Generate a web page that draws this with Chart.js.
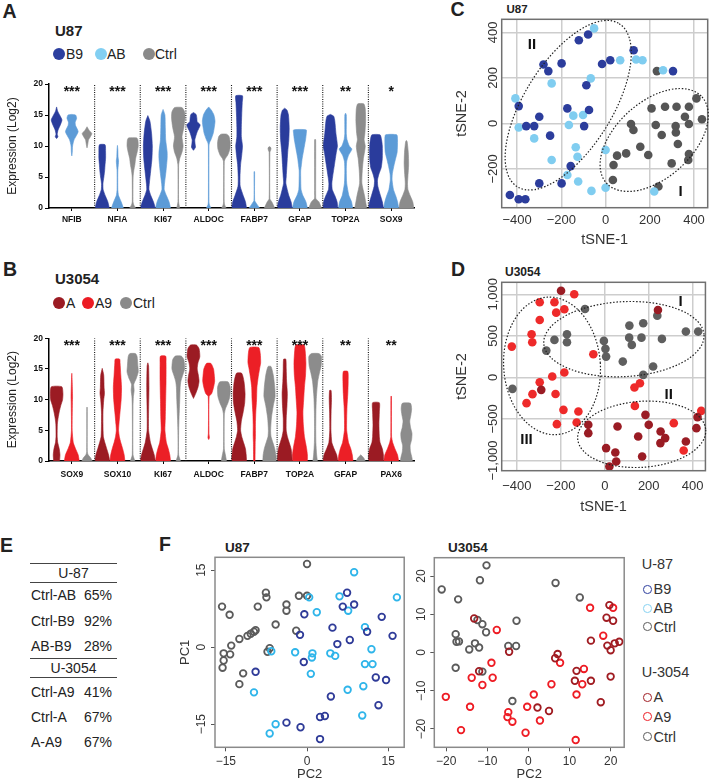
<!DOCTYPE html>
<html>
<head>
<meta charset="utf-8">
<title>Figure</title>
<script src="https://cdn.jsdelivr.net/npm/chart.js@4.4.1/dist/chart.umd.min.js"></script>
<style>
  body { margin: 0; width: 712px; height: 782px; position: relative; overflow: hidden; background: #fff;
         font-family: "Liberation Sans", Arial, sans-serif; color: #222; }
  canvas { position: absolute; }
  .t { position: absolute; white-space: nowrap; line-height: 1; }
  .rule { position: absolute; left: 30px; width: 87px; height: 0; border-top: 1.4px solid #444; }
</style>
</head>
<body>
<script>
// ---------- Panel A / B : violin profiles, [expression, width as fraction of slot] from bottom to top
const expressionTicks = [0, 5, 10, 15, 20];

const u87Genes = ['NFIB', 'NFIA', 'KI67', 'ALDOC', 'FABP7', 'GFAP', 'TOP2A', 'SOX9'];
const u87Stars = ['***', '***', '***', '***', '***', '***', '**', '*'];
const u87B9 = [
  [[11.2,0],[11.5,0.18],[11.9,0.08],[12.6,0.2],[13.4,0.5],[14.2,0.72],[14.9,0.45],[15.6,0.15],[16.3,0]],
  [[0,0.95],[1,0.75],[2,0.4],[3,0.12],[4,0.1],[5,0.22],[6,0.32],[7,0.38],[8,0.45],[9,0.45],[10.2,0.38]],
  [[0,1],[1,0.75],[2,0.4],[3,0.15],[4,0.2],[6,0.38],[8,0.55],[10,0.6],[12,0.5],[14,0.28],[14.9,0]],
  [[9.3,0],[9.8,0.27],[10.3,0.22],[11,0.18],[12.3,0.5],[13.4,0.9],[13.9,0.5],[14.5,0.45],[15.1,0.35],[15.4,0]],
  [[0,1],[1,0.85],[2,0.55],[3.5,0.15],[5,0.12],[7,0.2],[8.5,0.35],[10,0.45],[11.5,0.3],[13,0.3],[15,0.35],[17,0.42],[18.1,0.45]],
  [[0,1],[1,0.85],[2,0.55],[4,0.15],[5,0.2],[7,0.3],[9,0.4],[11,0.55],[13,0.6],[15,0.5],[15.8,0.3],[16.1,0]],
  [[0,1],[1,0.9],[2,0.6],[3,0.25],[4,0.2],[5,0.3],[7,0.55],[9,0.8],[10,0.95],[12,0.75],[14,0.6],[14.8,0.45],[15.1,0]],
  [[0,1],[1,0.85],[2,0.6],[3.5,0.25],[4.5,0.2],[5.5,0.4],[6.5,0.7],[8,0.85],[10,0.85],[11,0.75],[11.8,0.55]]
];
const u87AB = [
  [[8.4,0],[9,0.06],[10,0.1],[11,0.3],[12.3,0.85],[13.3,0.5],[13.8,0.45],[14.5,0.65],[15,0.5],[15.1,0]],
  [[0,0.8],[1,0.5],[2,0.15],[3,0.05],[6,0.05],[7,0.12],[7.6,0.15],[8.3,0.08],[9.5,0.05],[10.1,0]],
  [[0,1],[1,0.8],[2,0.45],[3,0.15],[4,0.2],[6,0.4],[8,0.55],[9,0.55],[11,0.35],[13,0.3],[15,0.25],[15.9,0]],
  [[0,0.3],[0.5,0.1],[1,0.04],[10,0.04],[10.5,0.1],[11,0.3],[12,0.6],[13,0.75],[14,0.85],[15,0.7],[15.8,0.35],[16.3,0]],
  [[0,0.7],[0.7,0.3],[1.2,0.05],[5.8,0.04],[5.9,0]],
  [[0,1],[1,0.8],[2,0.4],[3,0.15],[5,0.1],[6,0.1],[7,0.2],[8,0.3],[9,0.45],[10,0.6],[11,0.75],[12,0.85],[12.6,0.85]],
  [[0,0.95],[1,0.8],[2,0.45],[4,0.15],[6,0.1],[7.5,0.15],[8.5,0.4],[9.5,0.85],[10,0.5],[11,0.2],[12,0.1],[15,0.1],[15.3,0]],
  [[0,1],[1,0.85],[2,0.6],[3,0.3],[4.5,0.12],[5.5,0.15],[7,0.4],[8,0.6],[9,0.8],[11,0.85],[11.8,0.75]]
];
const u87Ctrl = [
  [[9.7,0],[10.3,0.1],[11,0.2],[11.5,0.45],[12,0.65],[12.5,0.3],[13.1,0]],
  [[0,0.4],[0.5,0.15],[1,0.05],[5,0.06],[6,0.15],[7,0.3],[8,0.4],[9,0.6],[10,0.75],[11,0.7],[11.3,0.55]],
  [[0,0.2],[1,0.04],[6.5,0.04],[7,0.05],[8,0.2],[9,0.5],[10,0.65],[11.5,0.5],[13,0.75],[14.5,0.9],[15.5,0.85],[16.2,0.5]],
  [[0,0.3],[0.5,0.1],[1,0.04],[7.5,0.05],[8,0.2],[8.5,0.5],[9.5,0.8],[10.5,0.85],[11.5,0.7],[11.9,0.4]],
  [[0,0.7],[1,0.3],[1.5,0.05],[9,0.05],[9.3,0.15],[9.7,0.2],[9.9,0]],
  [[0,0.85],[1,0.5],[1.5,0.1],[2,0.07],[11,0.07],[11.1,0]],
  [[0,0.8],[1,0.65],[2,0.5],[4,0.15],[6,0.2],[8,0.35],[9,0.5],[10,0.6],[11,0.45],[12,0.55],[14,0.65],[16,0.6],[16.8,0.4]],
  [[0,1],[1,0.85],[2,0.5],[3,0.2],[4,0.15],[5,0.2],[7,0.3],[9,0.25],[10.7,0.1],[10.9,0]]
];

const u3054Genes = ['SOX9', 'SOX10', 'KI67', 'ALDOC', 'FABP7', 'TOP2A', 'GFAP', 'PAX6'];
const u3054Stars = ['***', '***', '***', '***', '***', '***', '**', '**'];
const u3054A = [
  [[0,0.4],[1,0.45],[2,0.35],[3,0.15],[4,0.08],[6,0.1],[7,0.2],[8,0.35],[9,0.55],[10,0.8],[11,0.85],[12.1,0.7]],
  [[0,1],[1,0.85],[2,0.6],[3,0.35],[4,0.15],[6,0.1],[8,0.1],[10,0.2],[11,0.3],[12,0.25],[14,0.2],[15.1,0]],
  [[0,1],[1,0.85],[2,0.6],[3,0.35],[5,0.1],[8,0.1],[12,0.15],[15.5,0.1],[16,0]],
  [[10.2,0],[11,0.3],[12,0.6],[13,0.75],[14,0.65],[15,0.5],[16,0.6],[17,0.85],[18.3,0.75],[18.9,0.4]],
  [[0,1],[1,0.95],[2,0.85],[3,0.6],[4,0.35],[5,0.2],[6.5,0.3],[8,0.55],[9.5,0.75],[11,0.8],[13,0.65],[14.3,0.35]],
  [[0,1],[1,0.95],[2,0.85],[3,0.6],[4,0.35],[5,0.2],[7,0.2],[9,0.3],[11,0.35],[13,0.25],[15,0.2],[16.6,0.15]],
  [[0,1],[1,0.85],[2,0.5],[3,0.2],[5,0.08],[8,0.1],[10,0.15],[11.5,0.1]],
  [[0,1],[1,1],[2,0.85],[3,0.55],[4,0.45],[6,0.4],[8,0.45],[9.5,0.45]]
];
const u3054A9 = [
  [[0,1],[1,0.85],[2,0.5],[3,0.2],[5,0.05],[9.5,0.08],[10.5,0.1],[13,0.05],[14.3,0]],
  [[0,1],[1,0.9],[2,0.7],[3,0.45],[4,0.25],[5,0.15],[6,0.2],[8,0.35],[10,0.5],[12,0.55],[14,0.45],[16,0.35],[16.6,0.3]],
  [[0,1],[1,0.9],[2,0.7],[3,0.45],[5,0.25],[7,0.3],[10,0.35],[13,0.4],[16,0.4],[17.1,0.35]],
  [[3.5,0],[3.8,0.1],[4.5,0.04],[10.5,0.06],[11,0.4],[12,0.65],[13,0.8],[14,0.75],[15,0.65],[15.9,0.3]],
  [[0,0.1],[3,0.12],[4,0.15],[6,0.15],[8,0.2],[10,0.3],[12,0.35],[13.5,0.5],[15,0.7],[16,0.85],[17.5,0.8],[18.5,0.6]],
  [[0,1],[1,1],[2,0.9],[3,0.75],[4,0.6],[6,0.45],[8,0.4],[10,0.5],[12,0.6],[14,0.75],[16,0.8],[18,0.7],[18.9,0.55]],
  [[0,1],[1,0.9],[2,0.7],[3,0.4],[5,0.15],[7,0.15],[9,0.2],[11,0.3],[13,0.35],[14.6,0.3]],
  [[0,1],[1,0.85],[2,0.5],[3,0.2],[4,0.05],[10.5,0.04],[10.6,0]]
];
const u3054Ctrl = [
  [[0,0.7],[0.5,0.5],[1,0.15],[1.5,0.04],[8.7,0.03],[8.8,0]],
  [[0,0.3],[1,0.05],[9,0.05],[10.5,0.1],[11.5,0.2],[12.5,0.15],[13.5,0.5],[14.5,0.75],[15.5,0.7],[17,0.6],[17.5,0.4]],
  [[0,0.3],[1,0.05],[5,0.05],[7,0.1],[8.5,0.15],[10,0.2],[12,0.25],[13,0.35],[14,0.6],[15,0.85],[16.5,0.75],[17.1,0.4]],
  [[0,0.35],[1,0.2],[2,0.05],[7.5,0.05],[8.5,0.2],[9.5,0.55],[10.5,0.8],[12,0.85],[12.9,0.55]],
  [[0,0.9],[1,0.85],[2,0.7],[3,0.45],[4,0.2],[5,0.15],[7,0.25],[9,0.5],[10.5,0.75],[12,0.7],[14,0.5],[15.4,0.2]],
  [[0,0.3],[1,0.2],[3,0.1],[5,0.08],[8,0.1],[10,0.15],[11,0.2],[13,0.35],[14.5,0.6],[15.5,0.8],[17,0.85],[17.5,0.55]],
  [[0,0.6],[0.5,0.4],[1,0]],
  [[0,0.8],[0.5,0.75],[1.5,0.55],[2.5,0.5],[3.5,0.7],[4.5,0.75],[5.5,0.55],[6.5,0.45],[7.5,0.6],[8.5,0.7],[9.4,0.55]]
];

// ---------- Panel C / D : tSNE coordinates
const tsneXTicks = [-400, -200, 0, 200, 400];
const cYTicks = [-200, 0, 200, 400];
const dYTicks = [-1000, -500, 0, 500, 1000];

const cB9 = [[-79,391],[-121,366],[127,322],[-16,261],[21,278],[-281,259],[-259,230],[-199,264],[-87,168],[305,230],
  [-393,76],[-173,66],[-75,59],[-300,29],[-359,-12],[-323,-12],[-97,-12],[-251,-54],[-158,-188],[-300,-264],
  [-199,-264],[-433,-315],[-393,-334],[-363,-334]];
const cAB = [[-52,418],[138,281],[167,278],[66,278],[-244,176],[-67,198],[260,234],[-408,110],[-146,34],[-102,37],
  [-393,-18],[-166,-7],[-323,-66],[-135,-105],[-127,-147],[0,-117],[-244,-161],[-173,-227],[-124,-256],[-64,-297],
  [0,-283],[220,-300]];
const cCtrl = [[232,230],[411,110],[208,66],[269,73],[321,73],[377,73],[359,29],[436,18],[115,-3],[126,-29],
  [227,-7],[317,-12],[377,-3],[254,-51],[318,-40],[157,-103],[193,-139],[327,-91],[52,-142],[93,-132],
  [377,-135],[374,-161],[36,-183],[299,-176],[33,-249],[239,-278]];

const dA = [[-199,1043],[242,811],[-289,-150],[185,-451],[200,-571],[-75,-571],[-75,-671],[58,-591],[152,-711],[254,-651],
  [275,-731],[253,-791],[369,-771],[417,-611],[422,-478],[6,-851],[48,-904],[52,-1012],[21,-1072],[170,-952]];
const dA9 = [[-139,1000],[-296,904],[-229,904],[-221,779],[-184,820],[-296,691],[-333,519],[-330,423],[-423,370],[-52,279],
  [-184,58],[-239,10],[-296,-58],[-329,-202],[-224,-200],[135,-122],[160,-70],[-356,-310],[-188,-391],[-120,-411],
  [-218,-563],[-128,-543],[137,-343],[314,-551],[359,-880],[439,-403]];
const dCtrl = [[-90,823],[239,743],[112,623],[175,651],[-172,519],[-172,423],[-229,451],[-4,439],[111,478],[167,478],
  [260,463],[369,551],[425,551],[123,391],[3,343],[6,250],[-266,322],[82,190],[220,130],[175,30],[-420,-138]];

// cluster outlines (centre, radii in data units, rotation in degrees) and their labels
const cEllipses = [{cx: -169, cy: 80, rx: 435, ry: 193, rot: -58}, {cx: 220, cy: -73, rx: 291, ry: 167, rot: -42}];
const cNumerals = [['II', -333, 344], ['I', 339, -301]];
const dEllipses = [{cx: -240, cy: 138, rx: 220, ry: 829, rot: -4}, {cx: 87, cy: 460, rx: 365, ry: 451, rot: -3},
  {cx: 168, cy: -685, rx: 292, ry: 397, rot: -4}];
const dNumerals = [['I', 345, 904], ['II', 291, -210], ['III', -356, -751]];

// ---------- Panel E : similarity table
const tableU87 = [['Ctrl-AB', '65%'], ['Ctrl-B9', '92%'], ['AB-B9', '28%']];
const tableU3054 = [['Ctrl-A9', '41%'], ['Ctrl-A', '67%'], ['A-A9', '67%']];

// ---------- Panel F : PCA coordinates
const pcaU87Ticks = [-15, 0, 15];
const pcaU3054Ticks = [-20, -10, 0, 10, 20];
const fB9 = [[7.4,10.6],[6.6,7.9],[8.7,8.3],[-0.5,6.4],[13.8,5.9],[4.7,3.8],[11.1,3.0],[-1.3,2.4],[7.9,1.4],[5.6,0.6],
  [15.8,2.2],[-0.6,-2.9],[-9.5,-4.8],[12.7,-5.9],[14.6,-6.4],[4.4,-9.6],[13.2,-11.3],[2.4,-13.6],[3.3,-13.4],[-3.8,-14.7],
  [-1.2,-15.6],[2.4,-17.9]];
const fAB = [[8.7,14.6],[0.4,9.7],[6.0,9.9],[16.6,9.7],[1.8,6.8],[7.6,7.1],[10.7,3.9],[11.9,-0.4],[-6.6,-0.8],[-2.2,-1.0],
  [1.0,-1.2],[0.9,-2.0],[4.3,-1.2],[5.2,-1.7],[10.7,-3.3],[12.1,-3.3],[0.7,-5.2],[-9.8,-8.8],[7.5,-8.3],[10.4,-7.6],
  [10.2,-13.3],[-5.8,-15.0],[-6.9,-16.8]];
const fCtrlU87 = [[0,16.2],[-15.7,7.9],[-14.3,6.3],[-7.6,10.6],[-7.5,9.7],[-9.1,7.9],[-5.8,4.4],[-3.8,8.3],[-3.8,7.1],[-1.5,10.0],
  [0,10.0],[-2.0,3.2],[-11.0,2.2],[-10.4,2.6],[-9.8,3.0],[-9.5,3.3],[-12.5,1.6],[-14.0,0.3],[-15.4,-1.2],[-14.2,-1.4],
  [-15.4,-2.6],[-15.6,-4.0],[-11.8,-5.1],[-12.5,-7.2],[-7.3,-0.9],[-6.9,-0.2]];
const fA = [[-13.2,8.9],[19.7,12.4],[19.0,9.1],[20.6,8.3],[15.2,3.1],[19.2,1.8],[20.0,0.6],[21.0,2.4],[22.1,2.8],[-4.7,0.2],
  [7.1,-0.4],[6.5,-1.5],[11.7,-4.8],[11.3,-7.4],[15.2,-7.4],[20.0,-6.3],[-12.0,-4.9],[2.2,-14.4],[5.0,-15.3],[17.6,-13.0]];
const fA9 = [[15.0,11.7],[20.6,11.7],[18.2,4.4],[-7.7,5.9],[7.7,-2.7],[-9.0,-2.7],[-13.8,-6.6],[-11.2,-8.5],[-8.7,-6.6],[5.6,-8.3],
  [13.1,-8.3],[13.5,-4.3],[11.7,-11.0],[1.3,-11.0],[-0.3,-14.2],[-14.2,-14.2],[-4.9,-15.6],[-5.1,-16.9],[-3.9,-18.1],[2.8,-17.8],
  [-0.7,-21.0],[-16.4,-20.3],[11.5,-22.9],[-20.1,-11.6]];
const fCtrlU3054 = [[-10.2,22.8],[-11.8,18.9],[6.6,18.2],[12.5,14.4],[-17.1,13.9],[-2.9,8.3],[-12.4,8.5],[-11.2,7.4],[-10.3,5.3],[-17.7,4.8],
  [-17.5,2.8],[-16.9,2.9],[-13.0,2.4],[-12.0,1.3],[-14.4,0.8],[-4.9,1.7],[-3.0,1.7],[-17.7,-4.0],[-11.2,-5.0],[-3.9,-12.7],
  [-21.1,16.5]];

// ---------- helpers
const FONT = '"Liberation Sans", Arial, sans-serif';
Chart.defaults.font.family = FONT;
Chart.defaults.color = '#222';

function addText(str, x, y, css, anchor) {
  const d = document.createElement('div');
  d.className = 't';
  d.textContent = str;
  d.style.cssText += css;
  d.style.left = x + 'px';
  d.style.top = y + 'px';
  d.style.transform = anchor === 'left' ? 'translateY(-50%)' : 'translate(-50%,-50%)';
  document.body.appendChild(d);
}

function addDot(cx, cy, r, color, ring) {
  const d = document.createElement('div');
  d.style.cssText = `position:absolute;left:${cx - r}px;top:${cy - r}px;width:${2 * r}px;height:${2 * r}px;` +
    'border-radius:50%;box-sizing:border-box;' + (ring ? `border:${ring}px solid ${color};` : `background:${color};`);
  document.body.appendChild(d);
}

function addCanvas(x, y, w, h) {
  const c = document.createElement('canvas');
  c.width = w; c.height = h;
  c.style.left = x + 'px'; c.style.top = y + 'px';
  document.body.appendChild(c);
  return c;
}

function fmtTick(v) {
  const s = Math.abs(v).toLocaleString('en-US');
  return v < 0 ? '\u2212' + s : s;
}

function violinOutline(center, profile) {
  const left = profile.map(([y, w]) => ({x: center - w * 0.49, y}));
  const right = profile.slice().reverse().map(([y, w]) => ({x: center + w * 0.49, y}));
  return left.concat(right);
}

// ---------- small plugins
function starLabels(stars) {
  return {
    id: 'starLabels',
    afterDatasetsDraw(chart) {
      const {ctx, scales: {x, y}} = chart;
      ctx.save();
      ctx.font = 'bold 14px ' + FONT;
      ctx.fillStyle = '#111';
      ctx.textAlign = 'center';
      ctx.textBaseline = 'alphabetic';
      stars.forEach((s, g) => ctx.fillText(s, x.getPixelForValue(g * 3 + 1.5), y.getPixelForValue(19.4) + 8));
      ctx.restore();
    }
  };
}

function frame(color) {
  return {
    id: 'frame',
    afterDatasetsDraw(chart) {
      const {ctx, chartArea: a} = chart;
      ctx.save();
      ctx.strokeStyle = color;
      ctx.lineWidth = 1.5;
      ctx.strokeRect(a.left, a.top, a.right - a.left, a.bottom - a.top);
      ctx.restore();
    }
  };
}

function sideLabels(offset, size) {
  return {
    id: 'sideLabels',
    afterDraw(chart) {
      const {ctx, scales: {y}, chartArea: a} = chart;
      ctx.save();
      ctx.font = size + 'px ' + FONT;
      ctx.fillStyle = '#333';
      ctx.textAlign = 'center';
      ctx.textBaseline = 'middle';
      y.ticks.forEach(t => {
        ctx.save();
        ctx.translate(a.left - offset, y.getPixelForValue(t.value));
        ctx.rotate(-Math.PI / 2);
        ctx.fillText(fmtTick(t.value), 0, 0);
        ctx.restore();
      });
      ctx.restore();
    }
  };
}

function clusterOutlines(ellipses, numerals) {
  return {
    id: 'clusterOutlines',
    afterDatasetsDraw(chart) {
      const {ctx, scales: {x, y}} = chart;
      ctx.save();
      ctx.strokeStyle = '#222';
      ctx.lineWidth = 1.2;
      ctx.setLineDash([1.5, 1.8]);
      ellipses.forEach(e => {
        const px = x.getPixelForValue(e.cx), py = y.getPixelForValue(e.cy);
        const rx = Math.abs(x.getPixelForValue(e.cx + e.rx) - px);
        const ry = Math.abs(y.getPixelForValue(e.cy + e.ry) - py);
        ctx.beginPath();
        ctx.ellipse(px, py, rx, ry, e.rot * Math.PI / 180, 0, Math.PI * 2);
        ctx.stroke();
      });
      ctx.setLineDash([]);
      ctx.font = 'bold 15px ' + FONT;
      ctx.fillStyle = '#111';
      ctx.textAlign = 'center';
      ctx.textBaseline = 'middle';
      numerals.forEach(([t, vx, vy]) => ctx.fillText(t, x.getPixelForValue(vx), y.getPixelForValue(vy)));
      ctx.restore();
    }
  };
}

// ---------- violin chart (panels A, B)
function violinChart(canvas, genes, stars, groups, colors, padTop, labelPad) {
  const datasets = [];
  for (let g = 1; g < genes.length; g++) {
    datasets.push({data: [{x: g * 3, y: 0}, {x: g * 3, y: 20}], borderColor: '#111', borderWidth: 1.1,
      borderDash: [1, 1.3], fill: false});
  }
  groups.forEach((profiles, k) => {
    profiles.forEach((prof, g) => {
      datasets.push({data: violinOutline(g * 3 + k + 0.5, prof), backgroundColor: colors[k], borderColor: colors[k],
        borderWidth: 0.6, fill: 'shape', tension: 0.2});
    });
  });
  return new Chart(canvas, {
    type: 'line',
    data: {datasets},
    options: {
      responsive: false, animation: false, devicePixelRatio: 1, events: [],
      layout: {padding: {top: padTop, right: 6, left: 0, bottom: 0}},
      elements: {point: {radius: 0}},
      plugins: {legend: {display: false}, tooltip: {enabled: false}},
      scales: {
        x: {
          type: 'linear', min: 0, max: genes.length * 3,
          afterBuildTicks: s => { s.ticks = genes.map((_, g) => ({value: g * 3 + 1.5})); },
          afterFit: s => { s.height = 22; },
          ticks: {callback: (v, i) => genes[i], font: {size: 8.5, weight: 'bold'}, color: '#111',
            padding: labelPad, maxRotation: 0, autoSkip: false},
          grid: {drawOnChartArea: false, drawTicks: true, tickLength: 3, color: '#000'},
          border: {color: '#000', width: 1.5}
        },
        y: {
          min: 0, max: 20,
          afterBuildTicks: s => { s.ticks = expressionTicks.map(v => ({value: v})); },
          afterFit: s => { s.width = 49; },
          ticks: {font: {size: 8.5, weight: 'bold'}, color: '#111', padding: 2},
          grid: {drawOnChartArea: false, drawTicks: true, tickLength: 4, color: '#000'},
          border: {color: '#000', width: 1.5},
          title: {display: true, text: 'Expression (Log2)', font: {size: 12}, color: '#222', padding: {top: 5.3, bottom: 0}}
        }
      }
    },
    plugins: [starLabels(stars)]
  });
}

// ---------- scatter chart (panels C, D, F)
function scatterChart(canvas, cfg) {
  return new Chart(canvas, {
    type: 'scatter',
    data: {
      datasets: cfg.series.map(s => ({
        data: s.points.map(([x, y]) => ({x, y})),
        pointRadius: s.r, pointBackgroundColor: s.fill, pointBorderColor: s.stroke, pointBorderWidth: s.bw
      }))
    },
    options: {
      responsive: false, animation: false, devicePixelRatio: 1, events: [],
      layout: {padding: cfg.pad},
      plugins: {legend: {display: false}, tooltip: {enabled: false}},
      scales: {
        x: {
          type: 'linear', min: cfg.x[0], max: cfg.x[1],
          afterBuildTicks: s => { s.ticks = cfg.xTicks.map(v => ({value: v})); },
          afterFit: s => { s.height = cfg.xH; },
          ticks: {callback: v => fmtTick(v), font: {size: cfg.tickSize}, color: '#333', padding: cfg.xPad,
            maxRotation: 0, autoSkip: false},
          grid: Object.assign({}, cfg.grid),
          border: {display: false},
          title: {display: true, text: cfg.xTitle, font: {size: cfg.titleSize}, color: '#333',
            padding: {top: 0, bottom: cfg.xTitlePad}}
        },
        y: {
          type: 'linear', min: cfg.y[0], max: cfg.y[1],
          afterBuildTicks: s => { s.ticks = cfg.yTicks.map(v => ({value: v})); },
          afterFit: s => { s.width = cfg.yW; },
          ticks: {display: false},
          grid: Object.assign({}, cfg.grid),
          border: {display: false},
          title: {display: !!cfg.yTitle, text: cfg.yTitle || '', font: {size: cfg.titleSize}, color: '#333',
            padding: {top: cfg.yTitlePad || 0, bottom: 0}}
        }
      }
    },
    plugins: [frame(cfg.frame), sideLabels(cfg.yOffset, cfg.tickSize)].concat(cfg.extra || [])
  });
}

// ---------- page text: panel letters, titles, legends
const letterCss = 'font-weight:bold;font-size:19.5px;color:#222;';
addText('A', 9.5, 11.5, letterCss);
addText('B', 10, 269.5, letterCss);
addText('C', 457.5, 10, letterCss);
addText('D', 458, 270, letterCss);
addText('E', 6.5, 545.5, letterCss);
addText('F', 165, 544.5, letterCss);

addText('U87', 55, 30, 'font-weight:bold;font-size:15px;', 'left');
addText('U3054', 55, 277.5, 'font-weight:bold;font-size:15px;', 'left');
addText('U87', 506.5, 9.5, 'font-weight:bold;font-size:11.5px;', 'left');
addText('U3054', 505, 272, 'font-weight:bold;font-size:12px;', 'left');
addText('U87', 225, 547.5, 'font-weight:bold;font-size:13.5px;', 'left');
addText('U3054', 448, 547.5, 'font-weight:bold;font-size:13.5px;', 'left');

const u87Colors = ['#2a3c9c', '#5c9bd7', '#8c8c8c'];
const u3054Colors = ['#9b1b23', '#ec1f26', '#8c8c8c'];

// legend A
addDot(59, 54, 6, '#2c3f9f');  addText('B9', 66, 54, 'font-size:14px;', 'left');
addDot(100.5, 54, 6, '#82cff2'); addText('AB', 107, 54, 'font-size:14px;', 'left');
addDot(148.5, 54, 6, '#8a8a8a'); addText('Ctrl', 155, 54, 'font-size:14px;', 'left');
// legend B
addDot(59, 303.3, 6, '#9b1b23'); addText('A', 66, 303.3, 'font-size:14px;', 'left');
addDot(87.5, 303.3, 6, '#ec1c24'); addText('A9', 95, 303.3, 'font-size:14px;', 'left');
addDot(125.7, 303.3, 6, '#8a8a8a'); addText('Ctrl', 133, 303.3, 'font-size:14px;', 'left');

// ---------- panel E table
[562.7, 581.7, 658.3, 677.3].forEach(y => {
  const r = document.createElement('div');
  r.className = 'rule';
  r.style.top = y + 'px';
  document.body.appendChild(r);
});
const tableCss = 'font-size:14px;color:#222;';
addText('U-87', 73.5, 572.5, tableCss);
tableU87.forEach(([pair, pct], i) => {
  addText(pair, 31, 595 + i * 25.5, tableCss, 'left');
  addText(pct, 84, 595 + i * 25.5, tableCss, 'left');
});
addText('U-3054', 73.5, 668, tableCss);
tableU3054.forEach(([pair, pct], i) => {
  addText(pair, 31, 692 + i * 25, tableCss, 'left');
  addText(pct, 84, 692 + i * 25, tableCss, 'left');
});

// ---------- panel F legend
const fLegCss = 'font-size:14.5px;color:#333;';
addText('U-87', 641.7, 564, fLegCss, 'left');
[['B9', '#2d3e9e', 589.3], ['AB', '#86d2f2', 608.3], ['Ctrl', '#5b5b5b', 626.7]].forEach(([t, c, y]) => {
  addDot(647.3, y, 4.3, c, 1.8); addText(t, 653.5, y, fLegCss, 'left');
});
addText('U-3054', 641.7, 671.7, fLegCss, 'left');
[['A', '#a01c22', 697.3], ['A9', '#ee1c24', 716.7], ['Ctrl', '#5b5b5b', 736.7]].forEach(([t, c, y]) => {
  addDot(647.3, y, 4.3, c, 1.8); addText(t, 653.5, y, fLegCss, 'left');
});

// ---------- charts
violinChart(addCanvas(0, 70, 420, 160), u87Genes, u87Stars, [u87B9, u87AB, u87Ctrl], u87Colors, 14, 3.9);
violinChart(addCanvas(0, 323, 420, 160), u3054Genes, u3054Stars, [u3054A, u3054A9, u3054Ctrl], u3054Colors, 15.3, 5.9);

const tsneGrid = {color: '#cdcdcd', lineWidth: 1.5, drawTicks: false};
const pcaGrid = {drawOnChartArea: false, drawTicks: true, tickLength: 4, color: '#555', lineWidth: 1};
const dot = (points, color) => ({points, r: 4.3, fill: color, stroke: color, bw: 0});
const ring = (points, color) => ({points, r: 3.3, fill: 'rgba(0,0,0,0)', stroke: color, bw: 1.8});

scatterChart(addCanvas(440, 15, 272, 235), {
  series: [dot(cB9, '#2c3d9c'), dot(cAB, '#80cdf0'), dot(cCtrl, '#555555')],
  x: [-470, 462], y: [-371, 458], xTicks: tsneXTicks, yTicks: cYTicks,
  pad: {top: 4, right: 3, left: 0, bottom: 0}, xH: 42.3, yW: 61.7, xPad: 4.5,
  tickSize: 13, titleSize: 14.5, xTitle: 'tSNE-1', yTitle: 'tSNE-2', xTitlePad: 1.3, yTitlePad: 13,
  grid: tsneGrid, frame: '#707070', yOffset: 8,
  extra: [clusterOutlines(cEllipses, cNumerals)]
});

scatterChart(addCanvas(440, 278, 272, 245), {
  series: [dot(dA, '#9a1c24'), dot(dA9, '#ee2a2a'), dot(dCtrl, '#5f5f5f')],
  x: [-469, 458], y: [-1123, 1144], xTicks: tsneXTicks, yTicks: dYTicks,
  pad: {top: 4.3, right: 4, left: 0, bottom: 0}, xH: 52.3, yW: 61.7, xPad: 8.2,
  tickSize: 13, titleSize: 14.5, xTitle: 'tSNE-1', yTitle: 'tSNE-2', xTitlePad: 7.3, yTitlePad: 13,
  grid: tsneGrid, frame: '#707070', yOffset: 8,
  extra: [clusterOutlines(dEllipses, dNumerals)]
});

scatterChart(addCanvas(170, 540, 240, 242), {
  series: [ring(fB9, '#2f3b98'), ring(fAB, '#2fb5ea'), ring(fCtrlU87, '#5b5b5b')],
  x: [-17.0, 17.95], y: [-19.5, 17.5], xTicks: pcaU87Ticks, yTicks: pcaU87Ticks,
  pad: {top: 17.3, right: 4, left: 0, bottom: 0}, xH: 34.7, yW: 45, xPad: 3.2,
  tickSize: 12, titleSize: 13, xTitle: 'PC2', yTitle: 'PC1', xTitlePad: 0, yTitlePad: 7.2,
  grid: pcaGrid, frame: '#8a8a8a', yOffset: 13.3
});

scatterChart(addCanvas(410, 540, 220, 242), {
  series: [ring(fA, '#a01c22'), ring(fA9, '#ee1c24'), ring(fCtrlU3054, '#5b5b5b')],
  x: [-22.9, 23.3], y: [-24.8, 24.8], xTicks: pcaU3054Ticks, yTicks: pcaU3054Ticks,
  pad: {top: 17.7, right: 5.7, left: 0, bottom: 0}, xH: 34.7, yW: 24.3, xPad: 3.2,
  tickSize: 12, titleSize: 13, xTitle: 'PC2', yTitle: '', xTitlePad: 0,
  grid: pcaGrid, frame: '#8a8a8a', yOffset: 12.6
});
</script>
</body>
</html>
